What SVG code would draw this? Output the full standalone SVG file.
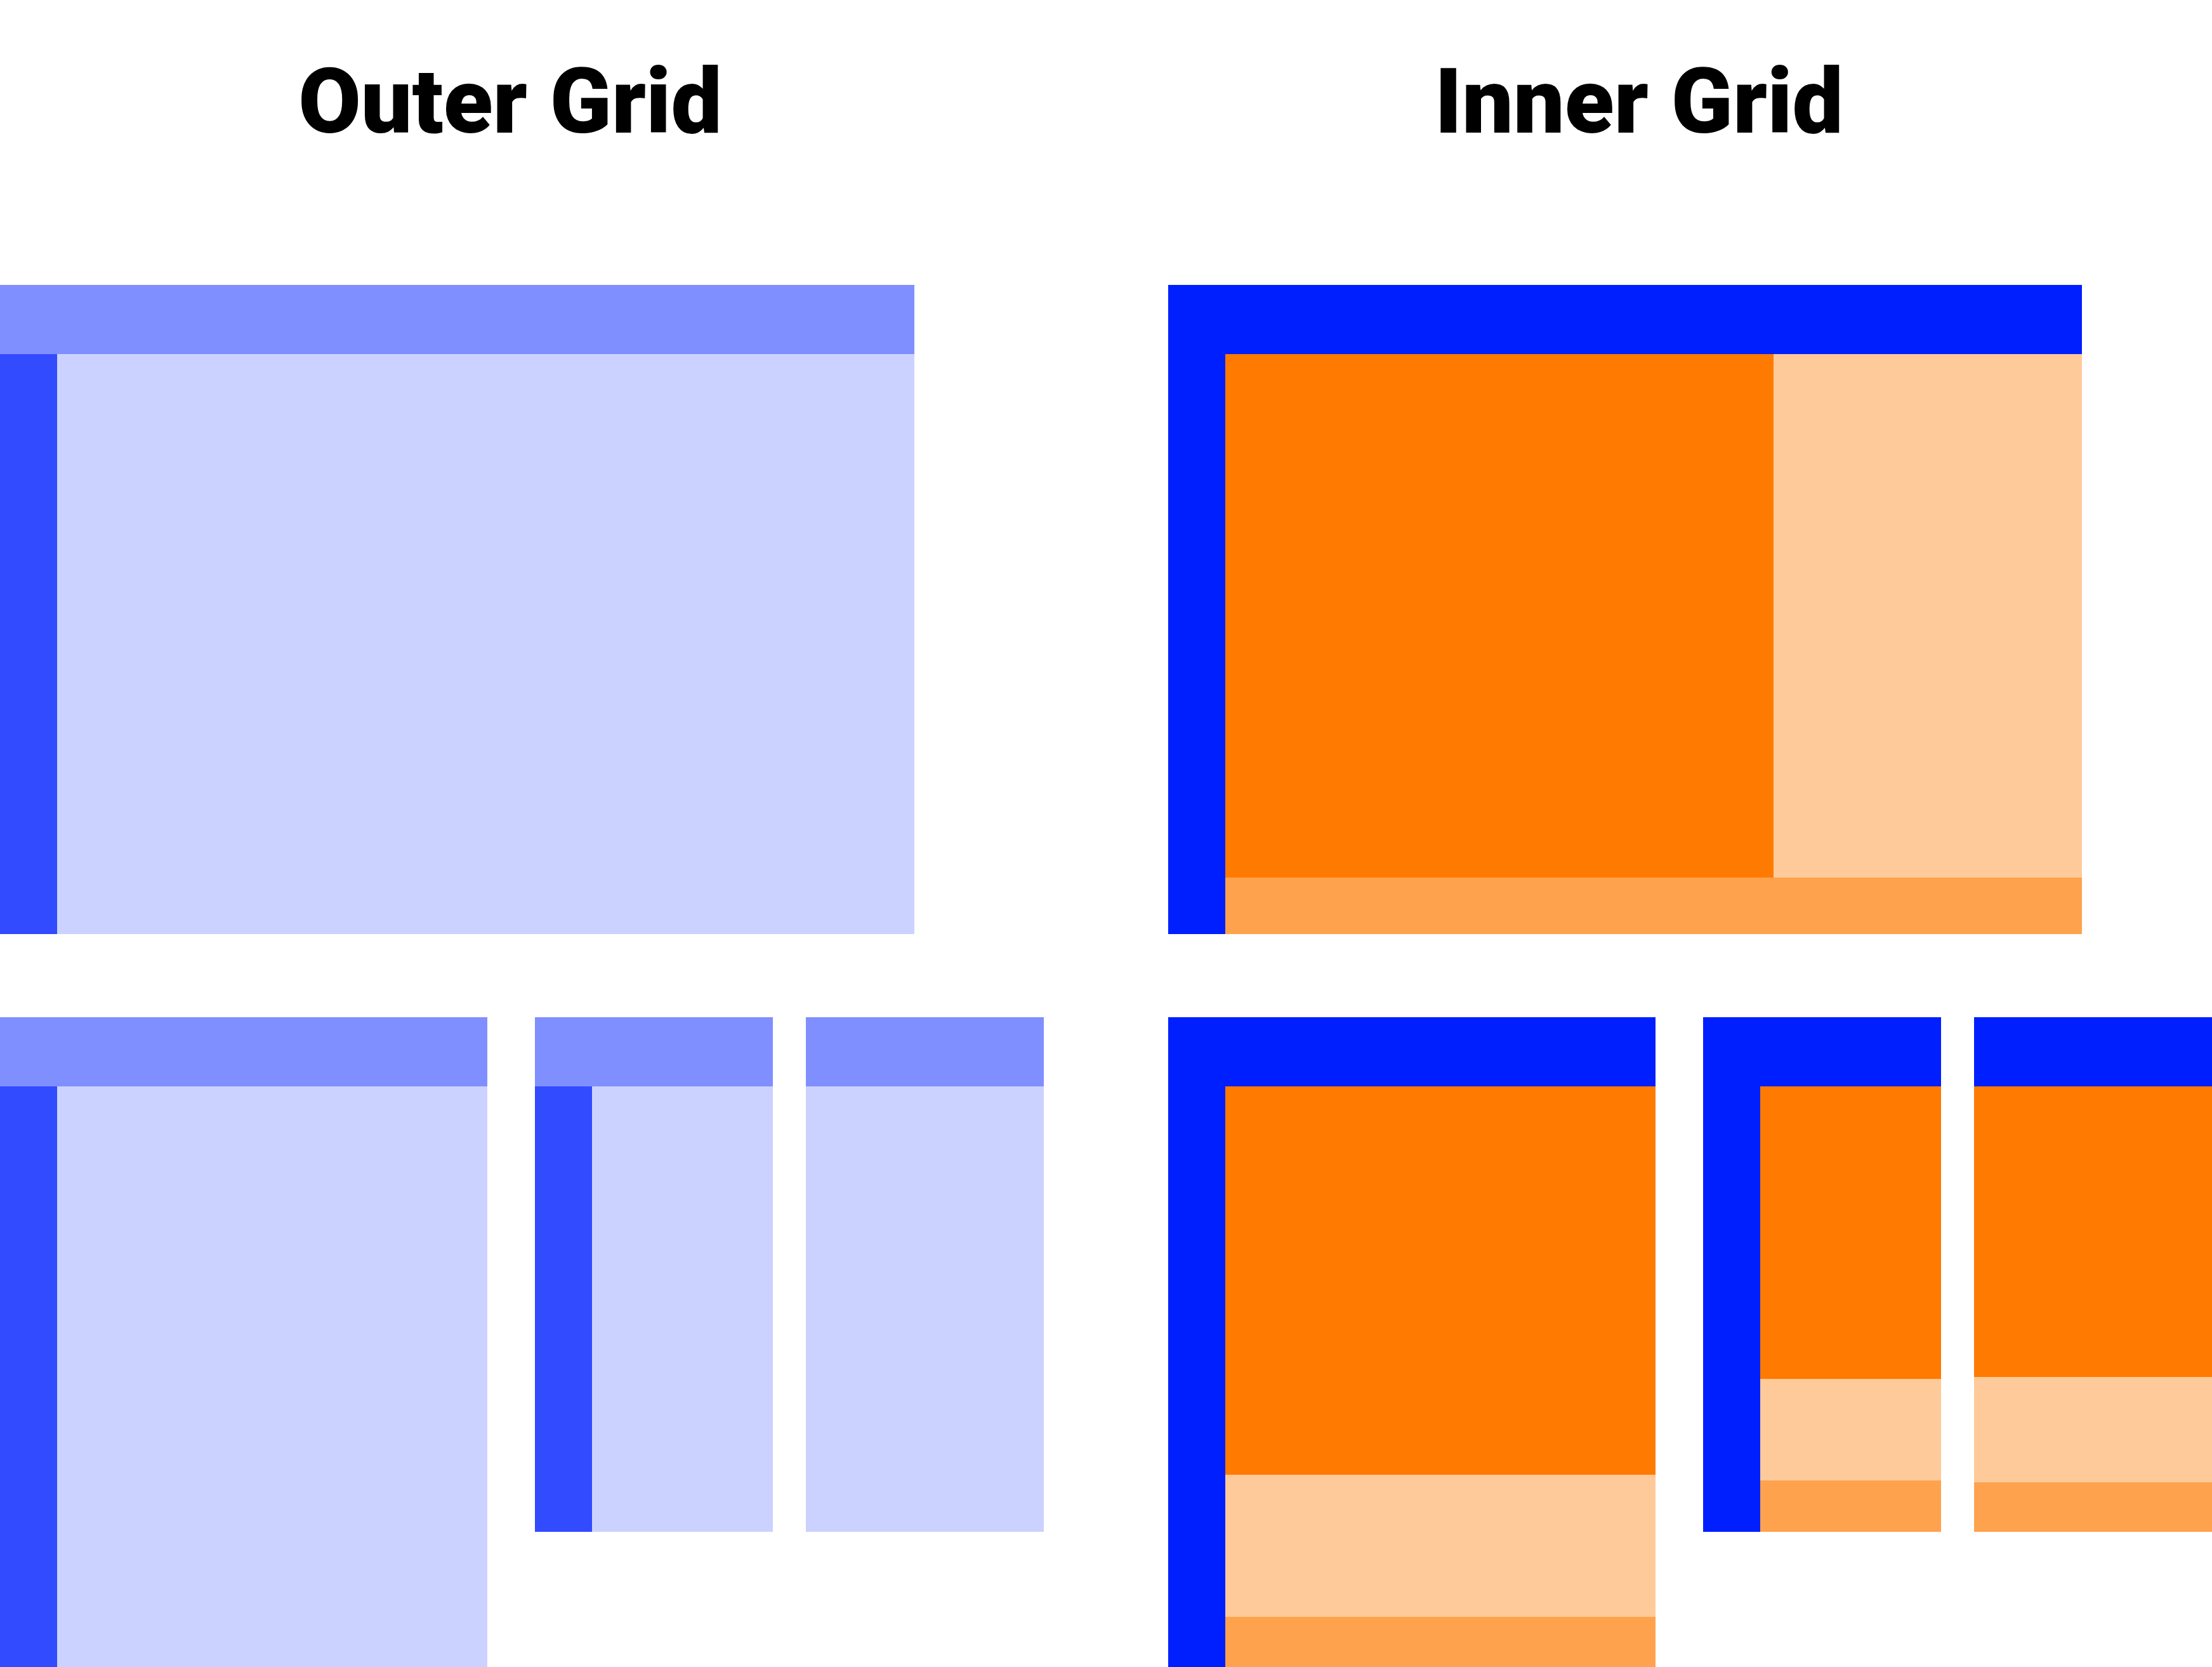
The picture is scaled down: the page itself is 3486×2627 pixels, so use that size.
<svg xmlns="http://www.w3.org/2000/svg" width="3486" height="2627" viewBox="0 0 3486 2627">
<style>
.t{font-family:Roboto,"Liberation Sans",sans-serif;font-weight:900;font-size:143px;fill:#000}
.oh{fill:#808FFF}.os{fill:#334BFF}.om{fill:#CCD2FF}
.ib{fill:#001FFF}.io{fill:#FF7A00}.ip{fill:#FFCA99}.if{fill:#FFA24D}
</style>
<rect width="3486" height="2627" fill="#fff"/>
<g id="title-outer"><text class="t" x="804" y="209" text-anchor="middle">Outer Grid</text></g>
<g id="title-inner"><text class="t" x="2583" y="209" text-anchor="middle">Inner Grid</text></g>

<g id="outer-large">
<rect class="oh" x="0" y="449" width="1441" height="109"/>
<rect class="os" x="0" y="558" width="90" height="914"/>
<rect class="om" x="90" y="558" width="1351" height="914"/>
</g>
<g id="outer-medium">
<rect class="oh" x="0" y="1603" width="768" height="109"/>
<rect class="os" x="0" y="1712" width="90" height="915"/>
<rect class="om" x="90" y="1712" width="678" height="915"/>
</g>
<g id="outer-small">
<rect class="oh" x="843" y="1603" width="375" height="109"/>
<rect class="os" x="843" y="1712" width="90" height="702"/>
<rect class="om" x="933" y="1712" width="285" height="702"/>
</g>
<g id="outer-small-nosidebar">
<rect class="oh" x="1270" y="1603" width="375" height="109"/>
<rect class="om" x="1270" y="1712" width="375" height="702"/>
</g>

<g id="inner-large">
<rect class="ib" x="1841" y="449" width="1440" height="109"/>
<rect class="ib" x="1841" y="558" width="90" height="914"/>
<rect class="io" x="1931" y="558" width="864" height="825"/>
<rect class="ip" x="2795" y="558" width="486" height="825"/>
<rect class="if" x="1931" y="1383" width="1350" height="89"/>
</g>
<g id="inner-medium">
<rect class="ib" x="1841" y="1603" width="768" height="109"/>
<rect class="ib" x="1841" y="1712" width="90" height="915"/>
<rect class="io" x="1931" y="1712" width="678" height="612"/>
<rect class="ip" x="1931" y="2324" width="678" height="224"/>
<rect class="if" x="1931" y="2548" width="678" height="79"/>
</g>
<g id="inner-small">
<rect class="ib" x="2684" y="1603" width="375" height="109"/>
<rect class="ib" x="2684" y="1712" width="90" height="702"/>
<rect class="io" x="2774" y="1712" width="285" height="461"/>
<rect class="ip" x="2774" y="2173" width="285" height="160"/>
<rect class="if" x="2774" y="2333" width="285" height="81"/>
</g>
<g id="inner-small-nosidebar">
<rect class="ib" x="3111" y="1603" width="375" height="109"/>
<rect class="io" x="3111" y="1712" width="375" height="458"/>
<rect class="ip" x="3111" y="2170" width="375" height="166"/>
<rect class="if" x="3111" y="2336" width="375" height="78"/>
</g>
<g id="connectors"/>
</svg>
